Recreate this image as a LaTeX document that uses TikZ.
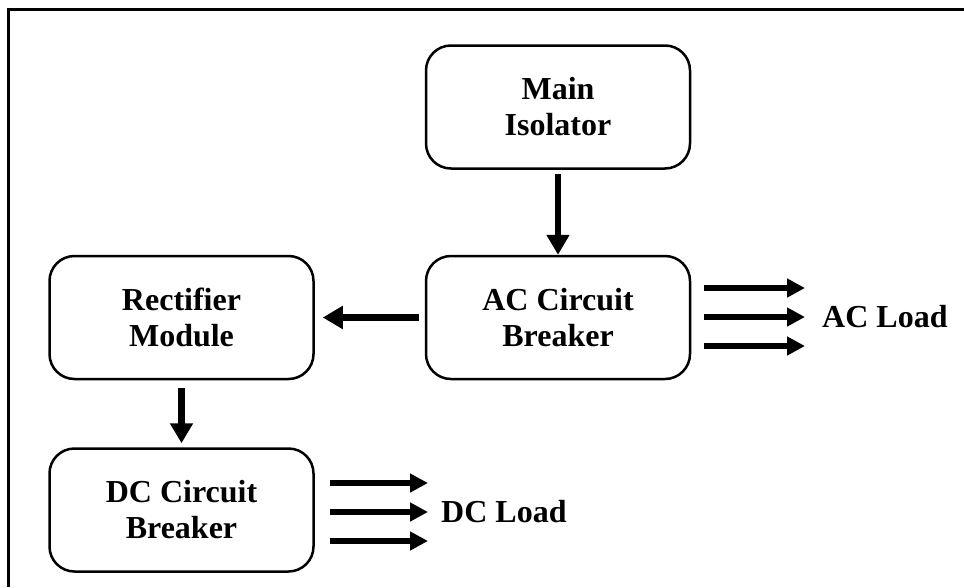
\documentclass[tikz,border=0pt]{standalone}
\usepackage{fontspec}
\setmainfont{Liberation Serif}
\usepackage{tikz}
\usetikzlibrary{arrows.meta,positioning,calc}

\begin{document}
\begin{tikzpicture}[
    x=1pt, y=-1pt,
    box/.style={rectangle, draw, line width=2.5pt, rounded corners=25pt, align=center, minimum width=264pt, minimum height=123pt, inner sep=0pt, font=\fontsize{32}{36}\selectfont\bfseries},
    arrow/.style={-{Triangle[length=20pt,width=22pt]}, line width=6.5pt},
    loadarrow/.style={-{Triangle[length=18pt,width=18pt]}, line width=6.5pt},
    load/.style={anchor=west, inner sep=0pt, font=\fontsize{32}{36}\selectfont\bfseries}
]
    \useasboundingbox (0,0) rectangle (964,587);
    % frame
    \draw[line width=2.4pt] (964,9.5) -- (8.5,9.5) -- (8.5,587);

    \node[box] (main) at (558,107) {Main\\Isolator};
    \node[box, below=85pt of main] (ac) {AC Circuit\\Breaker};
    \node[box, left=110pt of ac] (rect) {Rectifier\\Module};
    \node[box, below=67pt of rect] (dc) {DC Circuit\\Breaker};

    \node[load] (acload) at (822,317) {AC Load};
    \node[load] (dcload) at (441,512) {DC Load};

    \draw[arrow, shorten <=4pt] (ac.north |- main.south) -- (ac.north);
    \draw[arrow, shorten <=6pt, shorten >=8pt] (ac.west) -- (rect.east);
    \draw[arrow, shorten <=8pt, shorten >=4pt] (rect.south) -- (dc.north);

    % load feeders
    \foreach \dy in {-29,0,29} {
        \draw[loadarrow] ([shift={(13,\dy)}]ac.east |- acload) -- ([shift={(-17,\dy)}]acload.west);
        \draw[loadarrow] ([shift={(15,\dy)}]dc.east |- dcload) -- ([shift={(-13,\dy)}]dcload.west);
    }
\end{tikzpicture}
\end{document}
